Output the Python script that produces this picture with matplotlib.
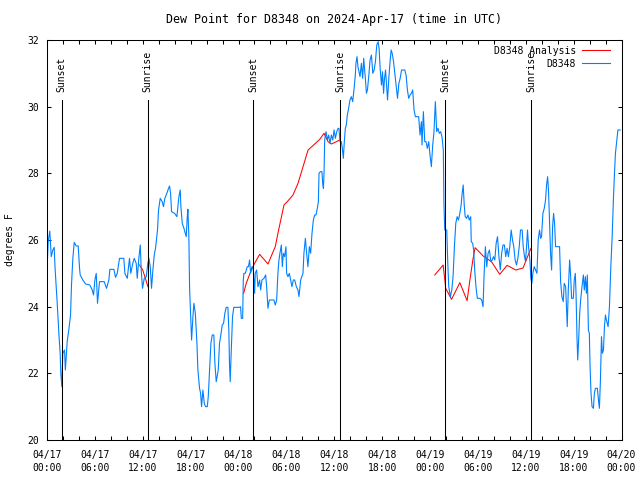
"""
Dew point chart for station D8348, gnuplot-like styling.
"""

import pandas as pd
import matplotlib
matplotlib.use("Agg")
import matplotlib.pyplot as plt
import matplotlib.dates as mdates

# --- data (hours after 2024-04-17 00:00 UTC) ---
obs_hours = [
    0.0, 0.15, 0.35, 0.53, 0.73, 0.9, 1.0, 1.28, 1.5, 1.65, 1.73, 1.86, 1.98, 2.2, 2.3,
    2.53, 2.73, 2.95, 3.07, 3.24, 3.41, 3.66, 3.91, 4.08, 4.16, 4.49, 4.83, 5.37, 5.67,
    5.83, 6.0, 6.17, 6.33, 6.58, 7.17, 7.46, 7.75, 7.88, 8.38, 8.59, 8.8, 9.09, 9.63,
    9.76, 10.06, 10.34, 10.5, 10.75, 10.93, 11.18, 11.31, 11.51, 11.69, 11.81, 11.97,
    12.19, 12.44, 12.64, 12.77, 12.94, 13.1, 13.27, 13.44, 13.6, 13.85, 13.98, 14.19,
    14.44, 14.6, 14.77, 15.02, 15.23, 15.36, 15.49, 15.61, 15.99, 16.28, 16.53, 16.7,
    16.78, 16.95, 17.16, 17.33, 17.45, 17.58, 17.66, 17.78, 17.87, 17.99, 18.12, 18.29,
    18.41, 18.59, 18.79, 18.91, 19.12, 19.25, 19.37, 19.54, 19.71, 19.87, 20.09, 20.21,
    20.37, 20.54, 20.71, 20.91, 21.04, 21.21, 21.46, 21.62, 21.79, 21.96, 22.13, 22.29,
    22.46, 22.67, 22.79, 22.87, 22.96, 23.08, 23.25, 23.41, 24.13, 24.26, 24.35, 24.52,
    24.6, 24.68, 24.85, 24.97, 25.1, 25.25, 25.39, 25.52, 25.69, 25.86, 26.02, 26.1,
    26.27, 26.44, 26.65, 26.77, 26.94, 27.19, 27.4, 27.53, 27.69, 27.86, 28.11, 28.44,
    28.61, 28.78, 28.94, 29.07, 29.19, 29.37, 29.49, 29.62, 29.78, 29.95, 30.03, 30.2,
    30.37, 30.53, 30.7, 30.87, 31.04, 31.25, 31.45, 31.58, 31.79, 32.08, 32.2, 32.38,
    32.54, 32.7, 32.88, 33.04, 33.21, 33.38, 33.55, 33.71, 33.88, 34.01, 34.09, 34.26,
    34.46, 34.55, 34.64, 34.72, 34.8, 34.89, 34.97, 35.14, 35.3, 35.47, 35.64, 35.81,
    35.98, 36.14, 36.31, 36.48, 36.59, 36.72, 36.89, 37.01, 37.14, 37.26, 37.39, 37.51,
    37.64, 37.8, 37.97, 38.14, 38.31, 38.47, 38.64, 38.72, 38.85, 38.97, 39.1, 39.23,
    39.4, 39.56, 39.69, 39.9, 40.03, 40.16, 40.32, 40.49, 40.66, 40.83, 41.0, 41.16,
    41.33, 41.5, 41.62, 41.75, 41.92, 42.05, 42.18, 42.3, 42.43, 42.55, 42.68, 42.84,
    43.01, 43.13, 43.26, 43.43, 43.59, 43.76, 43.93, 44.1, 44.26, 44.43, 44.84, 45.0,
    45.17, 45.33, 45.5, 45.67, 45.83, 46.0, 46.17, 46.58, 46.75, 46.92, 47.0, 47.17,
    47.34, 47.5, 47.67, 47.84, 48.0, 48.17, 48.34, 48.5, 48.67, 48.84, 49.0, 49.17,
    49.34, 49.5, 49.67, 49.75, 49.85, 50.1, 50.23, 50.35, 50.55, 50.73, 50.89, 51.06,
    51.23, 51.4, 51.57, 51.74, 51.9, 52.03, 52.16, 52.29, 52.41, 52.59, 52.75, 52.92,
    53.1, 53.17, 53.35, 53.47, 53.6, 53.76, 53.93, 54.27, 54.48, 54.65, 54.77, 54.94,
    55.11, 55.28, 55.45, 55.62, 55.79, 55.95, 56.12, 56.29, 56.46, 56.64, 56.81, 56.98,
    57.15, 57.32, 57.49, 57.66, 57.83, 58.0, 58.17, 58.34, 58.5, 58.67, 58.84, 59.01,
    59.18, 59.34, 59.55, 59.68, 59.85, 59.97, 60.1, 60.22, 60.35, 60.52, 60.64, 60.77,
    60.89, 61.06, 61.23, 61.4, 61.56, 61.73, 61.86, 61.98, 62.15, 62.32, 62.48, 62.61,
    62.74, 62.86, 62.99, 63.11, 63.24, 63.36, 63.49, 63.61, 63.74, 64.24, 64.37, 64.53,
    64.7, 64.82, 65.0, 65.12, 65.2, 65.33, 65.5, 65.63, 65.75, 65.96, 66.08, 66.21,
    66.3, 66.42, 66.51, 66.63, 66.76, 66.88, 67.05, 67.22, 67.34, 67.47, 67.6, 67.72,
    67.85, 67.97, 68.06, 68.18, 68.31, 68.48, 68.6, 68.73, 68.98, 69.11, 69.23, 69.36,
    69.49, 69.61, 69.74, 69.86, 69.99, 70.11, 70.32, 70.49, 70.66, 70.83, 70.99, 71.12,
    71.24, 71.42, 71.55, 71.83,
]
obs_dewpt = [
    25.1, 25.95, 26.27, 25.5, 25.7, 25.78, 25.2, 24.1, 23.15, 22.6, 22.0, 21.6, 22.6, 22.7, 22.1,
    22.95, 23.3, 23.75, 24.65, 25.45, 25.93, 25.82, 25.82, 25.15, 24.95, 24.8, 24.68, 24.65, 24.5,
    24.35, 24.8, 25.0, 24.1, 24.75, 24.75, 24.55, 24.8, 25.12, 25.12, 24.88, 25.0, 25.45, 25.45,
    25.0, 24.85, 25.45, 25.0, 25.3, 25.45, 25.3, 24.85, 25.45, 25.85, 25.1, 24.55,
    24.85, 24.9, 25.3, 25.45, 25.2, 24.55, 25.1, 25.55, 25.75, 26.3, 26.9, 27.25,
    27.15, 27.0, 27.25, 27.4, 27.55, 27.62, 27.4, 26.85, 26.8, 26.7, 27.3, 27.5,
    27.0, 26.5, 26.35, 26.2, 26.1, 26.7, 26.92, 26.1, 24.55, 23.8, 23.0, 23.7,
    24.1, 23.8, 22.9, 22.1, 21.55, 21.4, 21.0, 21.5, 21.1, 21.0, 21.0, 21.3,
    22.1, 22.9, 23.15, 23.15, 22.3, 21.75, 22.1, 22.9, 23.15, 23.45, 23.5, 23.8,
    23.98, 23.98, 23.3, 22.3, 21.75, 22.6, 23.7, 23.98, 23.98, 24.0, 23.65, 23.65,
    24.8, 25.0, 25.0, 25.1, 25.2, 25.2, 25.4, 25.0, 25.2, 25.1, 24.4, 25.0,
    25.1, 24.6, 24.8, 24.5, 24.8, 24.85, 24.95, 24.6, 23.95, 24.2, 24.2, 24.2,
    24.05, 24.2, 25.0, 25.4, 25.6, 25.85, 25.2, 25.6, 25.5, 25.8, 25.0, 24.9,
    25.0, 24.8, 24.6, 24.8, 24.8, 24.6, 24.5, 24.3, 24.8, 25.0, 25.6, 26.05,
    25.6, 25.2, 25.8, 25.6, 26.2, 26.6, 26.75, 26.75, 26.95, 27.15, 28.0, 28.05,
    28.05, 27.7, 27.55, 28.0, 29.0, 29.15, 29.25, 29.0, 29.15, 28.9, 29.15, 29.0,
    29.3, 29.05, 29.25, 29.35, 29.35, 28.95, 28.95, 28.75, 28.45, 28.95, 29.35, 29.45,
    29.75, 29.95, 30.2, 30.3, 30.15, 30.5, 30.95, 31.3, 31.5, 31.2, 31.05, 30.9,
    31.3, 30.85, 31.45, 30.85, 30.4, 30.5, 30.9, 31.4, 31.55, 31.0, 31.1, 31.35,
    31.85, 31.95, 31.75, 31.15, 30.65, 31.05, 30.4, 30.85, 31.1, 30.65, 30.2, 30.85,
    31.4, 31.7, 31.6, 31.35, 31.0, 30.65, 30.25, 30.7, 30.85, 31.1, 31.1, 30.95,
    30.5, 30.25, 30.35, 30.4, 30.5, 29.9, 29.7, 29.7, 29.15, 29.55, 28.85, 29.85,
    28.95, 28.95, 28.75, 28.95, 28.55, 28.2, 28.85, 29.25, 30.15, 29.25, 29.35, 29.2,
    29.25, 29.1, 28.7, 27.05, 26.3, 26.3, 25.3, 24.6, 24.3, 24.5, 24.9, 25.8,
    26.5, 26.7, 26.6, 26.8, 27.05, 27.4, 27.65, 27.05, 26.7, 26.65, 26.75, 26.6,
    26.7, 25.95, 25.9, 25.7, 25.1, 24.6, 24.25, 24.25, 24.2, 24.0, 24.9, 25.8,
    25.2, 25.6, 25.7, 25.35, 25.4, 25.5, 25.4, 25.9, 26.1, 25.5, 25.1, 25.6,
    25.85, 25.85, 25.5, 25.75, 25.5, 25.8, 26.3, 26.0, 25.8, 25.4, 25.25, 25.45,
    25.8, 26.3, 26.3, 25.8, 25.5, 25.35, 25.8, 26.3, 25.8, 25.4, 24.85, 24.7,
    25.0, 25.2, 25.1, 25.0, 26.0, 26.3, 26.05, 26.1, 26.8, 26.95, 27.2, 27.65,
    27.9, 27.45, 26.5, 25.6, 25.1, 26.4, 26.8, 26.5, 25.8, 25.8, 24.75, 24.3,
    24.15, 24.7, 24.6, 23.85, 23.4, 24.5, 25.4, 24.9, 24.25, 24.25, 24.8, 25.0,
    24.4, 23.1, 22.4, 23.0, 23.8, 24.2, 24.6, 24.95, 24.5, 24.9, 24.4, 24.95,
    23.3, 23.2, 22.2, 21.4, 21.0, 20.95, 21.4, 21.55, 21.55, 21.2, 20.95, 21.8,
    23.1, 22.6, 22.7, 23.4, 23.75, 23.6, 23.4, 24.0, 25.2, 26.1, 27.25, 28.0,
    28.6, 29.0, 29.3, 29.3,
]

# analysis comes in three separate pieces
anl_seg1_hours = [11.6, 12.0, 12.3, 12.65]
anl_seg1_dewpt = [25.25, 25.1, 24.87, 24.6]
anl_seg2_hours = [24.64, 24.97, 25.6, 26.02, 26.65, 27.7, 28.11, 28.61, 28.94, 29.7, 30.11,
                  30.83, 31.46, 32.09, 32.72, 33.55, 34.18, 34.72, 35.22, 35.64, 36.27, 36.68]
anl_seg2_dewpt = [24.4, 24.7, 25.1, 25.3, 25.57, 25.28, 25.52, 25.8, 26.2, 27.05, 27.15,
                  27.35, 27.7, 28.2, 28.7, 28.88, 29.02, 29.2, 28.95, 28.88, 28.95, 29.0]
anl_seg3_hours = [48.6, 49.65, 49.97, 50.7, 51.74, 52.65, 53.0, 53.4, 53.66, 54.66, 55.7,
                  56.74, 57.66, 58.75, 59.66, 60.65]
anl_seg3_dewpt = [24.95, 25.25, 24.55, 24.22, 24.72, 24.18, 24.8, 25.45, 25.77, 25.52, 25.35,
                  24.97, 25.24, 25.1, 25.16, 25.75]

sun_hours = [1.86, 12.64, 25.81, 36.74, 49.89, 60.67]
sun_labels = ["Sunset", "Sunrise", "Sunset", "Sunrise", "Sunset", "Sunrise"]

start = pd.Timestamp("2024-04-17 00:00")


def to_time(hours):
    return start + pd.to_timedelta(hours, unit="h")


plt.rcParams["font.family"] = "DejaVu Sans Mono"
plt.rcParams["font.size"] = 7

fig = plt.figure(figsize=(6.4, 4.8), dpi=100)
ax = fig.add_axes([47 / 640, 40 / 480, 574.5 / 640, 400 / 480])

red = "#ff0000"
blue = "#0080ff"

segments = [(anl_seg1_hours, anl_seg1_dewpt), (anl_seg2_hours, anl_seg2_dewpt),
            (anl_seg3_hours, anl_seg3_dewpt)]
for i, (hrs, vals) in enumerate(segments):
    ax.plot(to_time(hrs), vals, color=red, linewidth=0.75,
            label="D8348 Analysis" if i == 0 else None)

ax.plot(to_time(obs_hours), obs_dewpt, color=blue, linewidth=0.8, label="D8348")

# sunrise / sunset markers
for h, lbl in zip(sun_hours, sun_labels):
    t = to_time(h)
    ax.plot([t, t], [20, 30.2], color="black", linewidth=0.75)
    ax.text(t, 30.45, lbl, rotation=90, ha="center", va="bottom")

ax.set_xlim(start, start + pd.Timedelta(days=3))
ax.set_ylim(20, 32)
ax.set_yticks(range(20, 33, 2))
ax.xaxis.set_major_locator(mdates.HourLocator(byhour=[0, 6, 12, 18]))
ax.xaxis.set_minor_locator(mdates.HourLocator(byhour=range(0, 24, 2)))
ax.xaxis.set_major_formatter(mdates.DateFormatter("%m/%d\n%H:%M"))

ax.tick_params(which="both", direction="in", top=True, right=True,
               length=3, width=0.75)
ax.tick_params(axis="x", pad=7)
ax.tick_params(axis="y", pad=6)
for lbl in ax.get_xticklabels():
    lbl.set_linespacing(1.35)
for spine in ax.spines.values():
    spine.set_linewidth(0.75)

ax.set_title("Dew Point for D8348 on 2024-Apr-17 (time in UTC)", pad=12)
fig.text(10 / 640, 0.5, "degrees F", rotation=90, ha="center", va="center")

ax.legend(loc="upper right", bbox_to_anchor=(0.99, 1.0), markerfirst=False,
          frameon=False, handlelength=2.9, handletextpad=0.6, labelspacing=0.3,
          borderaxespad=0.3, borderpad=0.3)

fig.savefig("out.png", dpi=100)
